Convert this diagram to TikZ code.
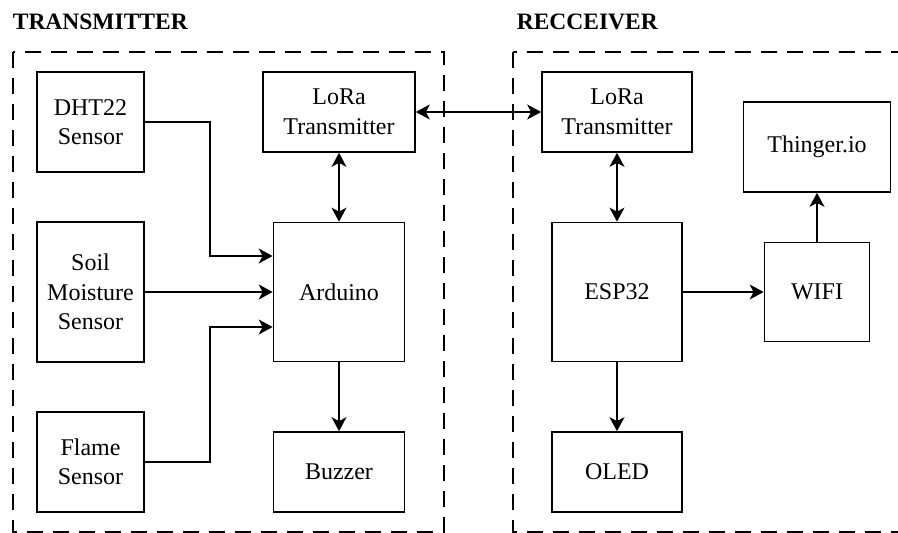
\documentclass[tikz,border=0pt]{standalone}
\usepackage{fontspec}
\setmainfont{Liberation Serif}
\newfontfamily\zeitfont{Liberation Serif}
\usetikzlibrary{arrows.meta}

\begin{document}
\begin{tikzpicture}[x=1pt, y=-1pt, >={Stealth[length=14pt,width=15pt,inset=4pt]},
		font=\zeitfont\fontsize{24}{29.5}\selectfont, line width=1.7pt,
		block/.style={draw, rectangle, align=center, inner sep=0pt},
		gruppe/.style={dash pattern=on 16pt off 10pt, line width=1.8pt},
		titel/.style={font=\zeitfont\fontsize{23.5}{28}\selectfont\bfseries, anchor=base west, inner sep=0pt}]
				\useasboundingbox (0,0) rectangle (898,533);
				% Rahmen zeichnen
				\draw[gruppe] (13,52) rectangle (444,532);
				\draw[gruppe] (513,52) rectangle (906,532);
				\node[titel] (tx) at (12,29) {TRANSMITTER};
				\node[titel] (rx) at (516,29) {RECCEIVER};
				% Sender
				\node[block, minimum width=107, minimum height=100] (dht) at (90.5,122) {DHT22\\Sensor};
				\node[block, minimum width=107, minimum height=140] (soil) at (90.5,292) {Soil\\Moisture\\Sensor};
				\node[block, minimum width=107, minimum height=100] (flame) at (90.5,462) {Flame\\Sensor};
				\node[block, minimum width=152, minimum height=80] (loraT) at (339,112) {LoRa\\Transmitter};
				\node[block, minimum width=131, minimum height=139] (arduino) at (339,292) {Arduino};
				\node[block, minimum width=131, minimum height=80] (buzzer) at (339,472) {Buzzer};
				% Empfaenger
				\node[block, minimum width=150, minimum height=80] (loraR) at (617,112) {LoRa\\Transmitter};
				\node[block, minimum width=130, minimum height=139] (esp) at (617,292) {ESP32};
				\node[block, minimum width=130, minimum height=80] (oled) at (617,472) {OLED};
				\node[block, minimum width=147, minimum height=90] (thinger) at (817,147) {Thinger.io};
				\node[block, minimum width=105, minimum height=99] (wifi) at (817,292) {WIFI};
				% Pfeile zeichnen
				\draw[->] (dht.east) -- ++(65,0) |- ([yshift=36pt]arduino.west);
				\draw[->] (soil.east) -- (soil.east -| arduino.west);
				\draw[->] (flame.east) -- ++(65,0) |- ([yshift=-35pt]arduino.west);
				\draw[<->] (loraT) -- (arduino);
				\draw[->] (arduino) -- (buzzer);
				\draw[<->] (loraT) -- (loraR);
				\draw[<->] (loraR) -- (esp);
				\draw[->] (esp) -- (oled);
				\draw[->] (esp) -- (wifi);
				\draw[->] (wifi) -- (thinger);
		\end{tikzpicture}
\end{document}
